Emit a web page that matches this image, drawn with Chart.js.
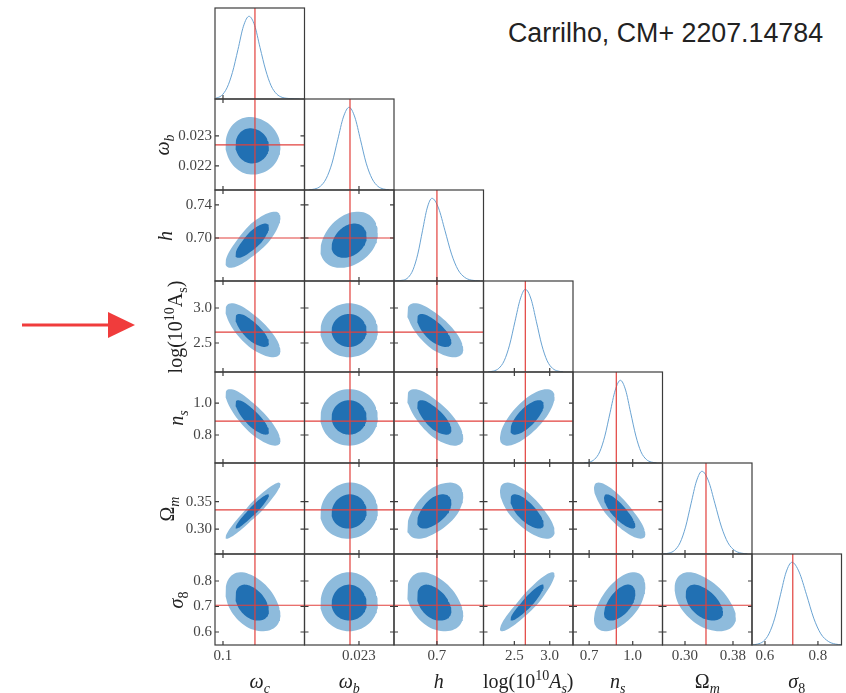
<!DOCTYPE html>
<html>
<head>
<meta charset="utf-8">
<script src="https://cdn.jsdelivr.net/npm/chart.js@4.4.1/dist/chart.umd.min.js"></script>
<style>
  body { margin: 0; background: #fff; }
  #page { position: relative; width: 846px; height: 693px; overflow: hidden; background: #fff; }
  #page canvas { position: absolute; }
  .axlab { position: absolute; font-family: 'Liberation Serif', serif; font-size: 20px; line-height: 20px; color: #222; white-space: nowrap; }
  .axlab sub, .axlab sup { font-size: 70%; line-height: 0; }
  .title { position: absolute; left: 508px; top: 20px; font-family: 'Liberation Sans', Arial, sans-serif; font-size: 26.8px; line-height: 27px; color: #222; white-space: nowrap; }
</style>
</head>
<body>
<div id="page">
  <div class="title">Carrilho, CM+ 2207.14784</div>
  <svg style="position:absolute;left:0;top:0" width="150" height="693">
    <line x1="22" y1="325" x2="112" y2="325" stroke="#f03c3c" stroke-width="3"/>
    <polygon points="108,312 135,325 108,338" fill="#f03c3c"/>
  </svg>
</div>
<script>
// Corner plot of 7 cosmological parameters: omega_c, omega_b, h, log(10^10 A_s), n_s, Omega_m, sigma_8

// Axis labels (columns along the bottom, rows on the left)
const bottomLabels = ['<i>ω</i><sub><i>c</i></sub>', '<i>ω</i><sub><i>b</i></sub>', '<i>h</i>',
  'log(10<sup>10</sup><i>A</i><sub><i>s</i></sub>)', '<i>n</i><sub><i>s</i></sub>', 'Ω<sub><i>m</i></sub>', '<i>σ</i><sub>8</sub>'];
const leftLabels = ['', '<i>ω</i><sub><i>b</i></sub>', '<i>h</i>', 'log(10<sup>10</sup>A<sub>s</sub>)',
  '<i>n</i><sub><i>s</i></sub>', 'Ω<sub><i>m</i></sub>', '<i>σ</i><sub>8</sub>'];

// Fiducial (true) values, drawn as red lines
const truth = [0.120, 0.0227, 0.700, 2.655, 0.887, 0.335, 0.705];

// Posterior centre and widths (lower / upper side) of each parameter
const center = [0.1175, 0.02267, 0.695, 2.675, 0.910, 0.330, 0.710];
const sigmaLow = [0.0064, 0.000385, 0.0125, 0.152, 0.071, 0.0190, 0.043];
const sigmaHigh = [0.0074, 0.000385, 0.0148, 0.158, 0.071, 0.0220, 0.050];

// Correlation of row parameter with column parameter (lower triangle)
const corr = [
  [],
  [-0.05],
  [0.80, 0.30],
  [-0.75, 0.00, -0.70],
  [-0.82, 0.00, -0.72, 0.72],
  [0.95, 0.05, 0.55, -0.72, -0.82],
  [-0.40, 0.00, -0.40, 0.92, 0.55, -0.50]
];
const contourLevels = [2.49, 1.52]; // 95% and 68% regions

// Axis ranges, when a parameter is on x (column) or on y (row)
const xRange = [[0.095, 0.151], [0.02118, 0.02417], [0.648, 0.7564], [2.064, 3.329], [0.589, 1.205], [0.2625, 0.4117], [0.551, 0.889]];
const yRange = [[0.095, 0.151], [0.0212, 0.02423], [0.648, 0.758], [2.086, 3.386], [0.625, 1.194], [0.2549, 0.4204], [0.549, 0.906]];

// Ticks
const xTicks = [[0.1], [0.023], [0.7], [2.5, 3.0], [0.7, 1.0], [0.30, 0.38], [0.6, 0.8]];
const xTickLabels = [['0.1'], ['0.023'], ['0.7'], ['2.5', '3.0'], ['0.7', '1.0'], ['0.30', '0.38'], ['0.6', '0.8']];
const yTicks = [[], [0.022, 0.023], [0.70, 0.74], [2.5, 3.0], [0.8, 1.0], [0.30, 0.35], [0.6, 0.7, 0.8]];
const yTickLabels = [[], ['0.022', '0.023'], ['0.70', '0.74'], ['2.5', '3.0'], ['0.8', '1.0'], ['0.30', '0.35'], ['0.6', '0.7', '0.8']];

// 1D marginal posteriors on the diagonal (peak = 1)
const pdfX = [
  [0.0956, 0.0990, 0.1025, 0.1059, 0.1094, 0.1128, 0.1163, 0.1198, 0.1232, 0.1267, 0.1301, 0.1336, 0.1370, 0.1420, 0.1480],
  [0.02133, 0.02152, 0.02171, 0.02190, 0.02210, 0.02229, 0.02248, 0.02267, 0.02286, 0.02305, 0.02324, 0.02344, 0.02363, 0.02382, 0.02401],
  [0.6500, 0.6595, 0.6653, 0.6710, 0.6768, 0.6825, 0.6882, 0.6940, 0.7019, 0.7098, 0.7177, 0.7256, 0.7335, 0.7414, 0.7520],
  [2.130, 2.204, 2.280, 2.356, 2.432, 2.508, 2.584, 2.655, 2.736, 2.812, 2.888, 2.964, 3.040, 3.116, 3.190],
  [0.666, 0.702, 0.737, 0.773, 0.808, 0.844, 0.880, 0.915, 0.951, 0.986, 1.022, 1.057, 1.093, 1.128, 1.164],
  [0.2640, 0.2734, 0.2826, 0.2917, 0.3009, 0.3100, 0.3192, 0.3283, 0.3392, 0.3500, 0.3609, 0.3717, 0.3826, 0.3934, 0.4040],
  [0.551, 0.572, 0.594, 0.615, 0.637, 0.6585, 0.680, 0.702, 0.729, 0.757, 0.784, 0.811, 0.839, 0.866, 0.889]
];
const pdfY = [
  [0.01, 0.04, 0.135, 0.32, 0.60, 0.88, 1.00, 0.89, 0.62, 0.35, 0.16, 0.06, 0.02, 0.005, 0.0],
  [0.002, 0.012, 0.045, 0.135, 0.325, 0.607, 0.882, 1.0, 0.882, 0.607, 0.325, 0.135, 0.045, 0.012, 0.002],
  [0.002, 0.011, 0.044, 0.135, 0.325, 0.607, 0.882, 1.0, 0.882, 0.607, 0.325, 0.135, 0.045, 0.011, 0.001],
  [0.002, 0.011, 0.044, 0.135, 0.325, 0.607, 0.882, 1.0, 0.882, 0.607, 0.325, 0.135, 0.044, 0.011, 0.002],
  [0.002, 0.011, 0.044, 0.135, 0.325, 0.607, 0.882, 1.0, 0.882, 0.607, 0.325, 0.135, 0.044, 0.011, 0.002],
  [0.002, 0.011, 0.044, 0.135, 0.325, 0.607, 0.882, 1.0, 0.882, 0.607, 0.325, 0.135, 0.044, 0.011, 0.002],
  [0.002, 0.011, 0.044, 0.135, 0.325, 0.607, 0.882, 1.0, 0.882, 0.607, 0.325, 0.135, 0.044, 0.011, 0.003]
];

// Styling
const outerColor = '#8ebbdc';
const innerColor = '#2170b3';
const pdfColor = '#6aa3d2';
const truthColor = '#e2403c';
const frameColor = '#3c3c3c';
const tickFont = {family: "'Liberation Serif', serif", size: 15};
const tickColor = '#444';

// Grid geometry
const gridLeft = 215, gridTop = 8, cellW = 89.5, cellH = 91;
const nPar = 7;
const leftLabelX = [0, 162, 165, 175, 176, 167, 176];

// Draws the frame of a panel and inward tick marks on its sides
const panelFrame = {
  id: 'panelFrame',
  afterDatasetsDraw(chart, args, opts) {
    const {ctx, chartArea: a, scales} = chart;
    ctx.save();
    ctx.strokeStyle = frameColor;
    ctx.lineWidth = 1.2;
    ctx.strokeRect(a.left, a.top, a.right - a.left, a.bottom - a.top);
    ctx.beginPath();
    opts.xTicks.forEach(v => {
      const px = scales.x.getPixelForValue(v);
      ctx.moveTo(px, a.bottom); ctx.lineTo(px, a.bottom - 4);
      if (!opts.diag) { ctx.moveTo(px, a.top); ctx.lineTo(px, a.top + 4); }
    });
    if (!opts.diag) {
      opts.yTicks.forEach(v => {
        const py = scales.y.getPixelForValue(v);
        ctx.moveTo(a.left, py); ctx.lineTo(a.left + 4, py);
        ctx.moveTo(a.right, py); ctx.lineTo(a.right - 4, py);
      });
    }
    ctx.stroke();
    ctx.restore();
  }
};

// Contour outline of the (row, col) pair at a given level, from centre, widths and correlation
function contourPoints(row, col, level) {
  const rho = corr[row][col];
  const pts = [];
  for (let k = 0; k <= 72; k++) {
    const t = k / 72 * 2 * Math.PI;
    const u = Math.cos(t);
    const w = rho * Math.cos(t) + Math.sqrt(1 - rho * rho) * Math.sin(t);
    pts.push({
      x: center[col] + level * u * (u < 0 ? sigmaLow[col] : sigmaHigh[col]),
      y: center[row] + level * w * (w < 0 ? sigmaLow[row] : sigmaHigh[row])
    });
  }
  return pts;
}

function lineSet(points, color, width) {
  return {data: points, showLine: true, borderColor: color, borderWidth: width, pointRadius: 0, fill: false};
}

function makePanel(row, col) {
  const page = document.getElementById('page');
  const diag = row === col;
  const m = 2;
  const padL = (col === 0 && row > 0) ? 70 : 0;
  const padB = (row === nPar - 1) ? 30 : 0;
  const pLeft = gridLeft + col * cellW, pRight = gridLeft + (col + 1) * cellW;
  const pTop = gridTop + row * cellH;
  const cLeft = Math.floor(pLeft), cRight = Math.ceil(pRight);

  const canvas = document.createElement('canvas');
  const w = cRight - cLeft + 2 * m + padL;
  const h = cellH + 2 * m + padB;
  canvas.width = w; canvas.height = h;
  canvas.style.width = w + 'px'; canvas.style.height = h + 'px';
  canvas.style.left = (cLeft - m - padL) + 'px';
  canvas.style.top = (pTop - m) + 'px';
  page.appendChild(canvas);

  const xr = xRange[col];
  const yr = diag ? [0, 1.1] : yRange[row];
  let datasets;
  if (diag) {
    datasets = [
      lineSet([{x: truth[col], y: yr[0]}, {x: truth[col], y: yr[1]}], truthColor, 1.2),
      Object.assign(lineSet(pdfX[col].map((x, k) => ({x, y: pdfY[col][k]})), pdfColor, 1), {cubicInterpolationMode: 'monotone'})
    ];
  } else {
    datasets = [
      lineSet([{x: xr[0], y: truth[row]}, {x: xr[1], y: truth[row]}], truthColor, 1.2),
      lineSet([{x: truth[col], y: yr[0]}, {x: truth[col], y: yr[1]}], truthColor, 1.2),
      {data: contourPoints(row, col, contourLevels[1]), showLine: true, fill: 'shape', backgroundColor: innerColor, borderWidth: 0, pointRadius: 0},
      {data: contourPoints(row, col, contourLevels[0]), showLine: true, fill: 'shape', backgroundColor: outerColor, borderWidth: 0, pointRadius: 0}
    ];
  }

  const zeroPad = s => { s.paddingTop = 0; s.paddingBottom = 0; s.paddingLeft = 0; s.paddingRight = 0; };

  new Chart(canvas, {
    type: 'scatter',
    data: {datasets},
    options: {
      responsive: false,
      animation: false,
      devicePixelRatio: 1,
      events: [],
      layout: {padding: {left: m + (pLeft - cLeft), right: m + (cRight - pRight), top: m, bottom: m}},
      plugins: {
        legend: {display: false},
        tooltip: {enabled: false},
        panelFrame: {xTicks: xTicks[col], yTicks: yTicks[row], diag}
      },
      scales: {
        x: {
          type: 'linear', min: xr[0], max: xr[1], bounds: 'data',
          display: padB > 0,
          grid: {display: false, drawTicks: false},
          border: {display: false},
          ticks: {
            autoSkip: false, maxRotation: 0, minRotation: 0, padding: 2,
            font: tickFont, color: tickColor,
            callback: (v, i) => xTickLabels[col][i]
          },
          afterBuildTicks: s => { s.ticks = xTicks[col].map(v => ({value: v})); },
          afterFit: s => { s.height = padB; zeroPad(s); }
        },
        y: {
          type: 'linear', min: yr[0], max: yr[1], bounds: 'data',
          display: padL > 0,
          grid: {display: false, drawTicks: false},
          border: {display: false},
          ticks: {
            autoSkip: false, padding: 3,
            font: tickFont, color: tickColor,
            callback: (v, i) => yTickLabels[row][i]
          },
          afterBuildTicks: s => { s.ticks = yTicks[row].map(v => ({value: v})); },
          afterFit: s => { s.width = padL; zeroPad(s); }
        }
      }
    },
    plugins: [panelFrame]
  });
}

for (let row = 0; row < nPar; row++) {
  for (let col = 0; col <= row; col++) makePanel(row, col);
}

// Axis titles
const page = document.getElementById('page');
bottomLabels.forEach((html, col) => {
  const d = document.createElement('div');
  d.className = 'axlab';
  d.innerHTML = html;
  d.style.left = (gridLeft + (col + 0.5) * cellW) + 'px';
  d.style.top = '671px';
  d.style.transform = 'translateX(-50%)';
  page.appendChild(d);
});
leftLabels.forEach((html, row) => {
  if (!html) return;
  const d = document.createElement('div');
  d.className = 'axlab';
  d.innerHTML = html;
  d.style.left = leftLabelX[row] + 'px';
  d.style.top = (gridTop + (row + 0.5) * cellH) + 'px';
  d.style.transform = 'translate(-50%, -50%) rotate(-90deg)';
  page.appendChild(d);
});
</script>
</body>
</html>
